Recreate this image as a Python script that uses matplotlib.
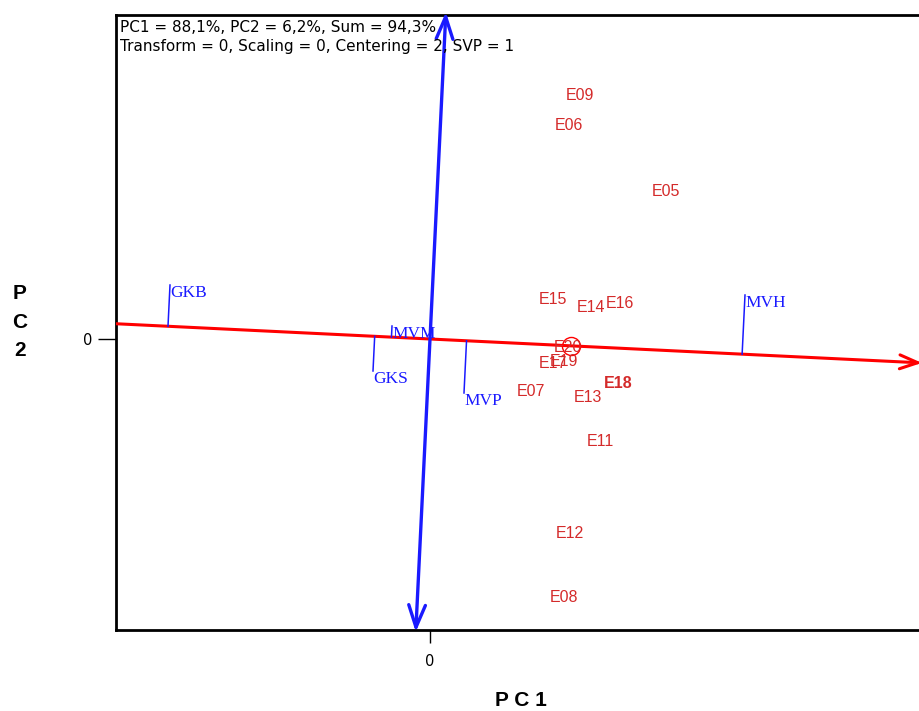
import numpy as np
import matplotlib
matplotlib.use("Agg")
import matplotlib.pyplot as plt
from matplotlib.patches import FancyArrowPatch

# genotype scores (PC1, PC2)
entries = ["E09", "E06", "E05", "E15", "E14", "E16", "E20", "E19", "E17",
           "E18", "E07", "E13", "E11", "E12", "E08"]
entry_pc1 = [3.00, 2.78, 4.72, 2.46, 3.22, 3.80, 2.76, 2.68, 2.46,
             3.76, 2.02, 3.16, 3.40, 2.80, 2.68]
entry_pc2 = [4.88, 4.26, 2.96, 0.80, 0.64, 0.70, -0.18, -0.44, -0.50,
             -0.90, -1.06, -1.16, -2.04, -3.90, -5.18]

# environment (tester) scores
testers = ["GKB", "GKS", "MVM", "MVP", "MVH"]
tester_pc1 = [-5.20, -1.14, -0.76, 0.68, 6.30]
tester_pc2 = [1.08, -0.64, 0.26, -1.08, 0.88]

# average environment
avg_pc1, avg_pc2 = 2.82, -0.137

info_lines = ["PC1 = 88,1%, PC2 = 6,2%, Sum = 94,3%",
              "Transform = 0, Scaling = 0, Centering = 2, SVP = 1"]

RED = "#ff0000"
LBL_RED = "#d42a2a"
BLUE = "#1a1aff"

fig = plt.figure(figsize=(9.19, 7.11), dpi=100)
W, H = 919, 711
ax = fig.add_axes([116 / W, (H - 630) / H, (935 - 116) / W, (630 - 15) / H])
ax.set_xlim(-6.28, 10.1)
ax.set_ylim(-5.82, 6.48)

for s in ax.spines.values():
    s.set_linewidth(2.0)
ax.spines["right"].set_visible(False)

ax.set_xticks([0])
ax.set_yticks([0])
ax.tick_params(axis="x", length=9, width=1, pad=8, labelsize=10.5)
ax.tick_params(axis="y", length=13, width=1, pad=4, labelsize=10.5)
for t in ax.get_xticklabels() + ax.get_yticklabels():
    t.set_family("DejaVu Sans")

# average-environment axis (abscissa) and its perpendicular
u = np.array([avg_pc1, avg_pc2])
u = u / np.linalg.norm(u)
perp = np.array([-u[1], u[0]])
x0, x1 = ax.get_xlim()

left_end = u * (x0 / u[0])
right_tip = u * (9.84 / u[0])
ax.add_patch(FancyArrowPatch(left_end, right_tip,
                             arrowstyle="->,head_length=13,head_width=5",
                             mutation_scale=1, color=RED, lw=2.2,
                             shrinkA=0, shrinkB=0, zorder=3))

top_tip = perp * (6.54 / perp[1])
bot_tip = perp * (-5.86 / perp[1])
ax.add_patch(FancyArrowPatch(bot_tip, top_tip,
                             arrowstyle="<->,head_length=16,head_width=6",
                             mutation_scale=1, color=BLUE, lw=2.4,
                             shrinkA=0, shrinkB=0, zorder=4, clip_on=False))

ax.plot(avg_pc1, avg_pc2, "o", ms=13, mfc="none", mec=RED, mew=1, zorder=5)

# tester markers: projection onto the average axis, label at the score
for name, px, py in zip(testers, tester_pc1, tester_pc2):
    v = np.array([px, py])
    proj = u * np.dot(v, u)
    ax.plot([proj[0], px], [proj[1], py], color=BLUE, lw=1.1, zorder=4)
    ax.text(px, py, name, color=BLUE, family="Liberation Serif",
            fontsize=12.5, ha="left", va="top", zorder=6)

for name, ex, ey in zip(entries, entry_pc1, entry_pc2):
    ax.text(ex, ey, name, color=LBL_RED, family="Liberation Sans",
            fontsize=11.5, ha="center", va="center", zorder=6,
            fontweight="bold" if name == "E18" else "normal")

ax.text(0.005, 0.992, "\n".join(info_lines), transform=ax.transAxes,
        family="DejaVu Sans", fontsize=11, ha="left", va="top",
        linespacing=1.3, zorder=7)

fig.text(521 / W, 1 - 701 / H, "P C 1", family="Liberation Sans",
         fontweight="bold", fontsize=15, ha="center", va="center")
fig.text(20 / W, 1 - 322 / H, "P\nC\n2", family="Liberation Sans",
         fontweight="bold", fontsize=15, ha="center", va="center",
         linespacing=1.65)

fig.savefig("out.png", dpi=100)
